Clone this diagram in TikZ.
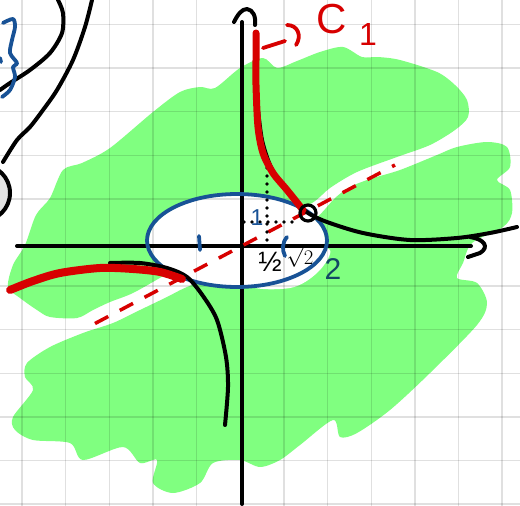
\documentclass[tikz,border=0pt]{standalone}
\usepackage{fontspec}
\setmainfont{Liberation Sans}
\definecolor{hlgreen}{RGB}{128,255,128}
\definecolor{inkblue}{RGB}{24,82,150}
\definecolor{inkteal}{RGB}{18,72,100}
\definecolor{inkred}{RGB}{215,0,0}
\definecolor{lightgray2}{RGB}{226,226,226}
\begin{document}
\begin{tikzpicture}[x=1pt,y=-1pt,
  gridline/.style={black,opacity=0.12,line width=1.4pt},
  ink/.style={black,line width=4pt,line cap=round,line join=round},
  redink/.style={inkred,line width=7pt,line cap=round,line join=round},
  blueink/.style={inkblue,line width=3.8pt,line cap=round,line join=round},
  reddash/.style={inkred,line width=3.5pt,dash pattern=on 15pt off 13pt},
  dotline/.style={black,line width=3.8pt,line cap=round,dash pattern=on 0pt off 8pt},
  greenblob/.style={fill=hlgreen,draw=none},
  lbl/.style={inner sep=0pt,outer sep=0pt}
]
\useasboundingbox (0,0) rectangle (520,506);
\fill[white] (0,0) rectangle (520,506);

% green highlighted regions
\fill[greenblob] plot[smooth cycle,tension=0.5] coordinates {
 (8,287) (13,265) (25,245) (36,215) (50,198) (63,170) (82,163) (110,148)
 (153,112) (180,92) (200,87) (215,88) (240,68) (263,58) (277,68) (297,61)
 (320,52) (343,47) (362,57) (378,57) (400,60) (437,72) (455,85) (467,100)
 (468,117) (455,130) (430,145) (397,157) (357,172) (330,188) (312,203)
 (270,225) (200,255) (165,275) (133,293) (110,302) (93,310) (77,318)
 (50,317) (37,310) (20,298)};
\fill[greenblob] plot[smooth cycle,tension=0.5] coordinates {
 (316,218) (335,198) (350,187) (370,179) (400,170) (437,155) (457,147)
 (487,142) (507,147) (510,167) (497,180) (510,190) (512,213) (503,227)
 (472,243) (463,263) (457,278) (477,283) (487,303) (477,325) (430,373)
 (390,410) (357,433) (340,437) (333,420) (300,445) (280,460) (260,467)
 (240,460) (213,463) (200,483) (173,493) (153,483) (157,460) (140,463)
 (123,447) (83,460) (70,443) (33,440) (15,430) (13,417) (33,390) (25,377)
 (27,363) (50,347) (83,333) (113,323) (140,310) (167,297) (187,287)
 (230,270) (280,240)};
% white interior of the ellipse
\fill[white] (237,240.5) ellipse[x radius=88,y radius=45];
\fill[white] plot[smooth cycle,tension=0.6] coordinates {
 (250,284) (290,288) (318,272) (330,250) (305,250)};

% grid
\foreach \gx in {22,65.6,109.2,152.8,196.4,284,327.6,371.2,414.8,458.4,502}
  \draw[gridline] (\gx,0) -- (\gx,506);
\foreach \gy in {24.5,68.1,111.7,155.3,198.9,286,329.6,373.2,416.8,460.4,504}
  \draw[gridline] (0,\gy) -- (520,\gy);

% top-left fragments
\filldraw[fill=lightgray2,draw=black,line width=4pt] (-18,193) circle[radius=28];
\draw[ink] plot[smooth] coordinates {(58,0) (63,13) (62,33) (50,53) (30,70) (10,83) (0,90)};
\draw[ink] plot[smooth] coordinates {(92,0) (85,27) (73,60) (57,90) (43,110) (30,127) (17,140) (3,162)};
\draw[blueink] plot[smooth,tension=0.5] coordinates {(3,23) (13,19) (15,27) (12,40) (10,53) (17,63) (13,67) (15,77) (10,90) (2,97)};
\draw[blueink] (0,58) -- (1,62);

% axes
\coordinate (xl) at (17,246);
\coordinate (xr) at (471,246);
\coordinate (yb) at (242,504);
\coordinate (yt) at (242,22);
\draw[ink] (xl) -- (xr);
\draw[ink] (yb) -- (yt);
\draw[ink] (470,237) .. controls (484,239) and (490,247) .. (480,253) -- (468,257);
\draw[ink] (234,22) .. controls (238,14) and (242,9) .. (247,9) .. controls (253,10) and (256,16) .. (255,25);

% ellipse
\draw[inkblue,line width=3.8pt] (237,240.5) ellipse[x radius=90,y radius=46.5];
\draw[blueink] (199,236) -- (200,250);
\draw[blueink] (287,237) .. controls (282,243) and (282,250) .. (285,256);

% dashed line y = x/2
\coordinate (d1) at (95,323.5);
\coordinate (d2) at (395,165);
\draw[reddash] (d1) -- (d2);

% dotted guides
\draw[dotline] (267,168) -- (267,246);
\draw[dotline] (244,222) -- (296,222);

% hyperbola branches (black)
\draw[ink] plot[smooth] coordinates {(258,110) (262,140) (270,165) (282,185) (296,202) (308,213) (327,222) (363,233) (410,240) (457,238) (490,233) (517,227)};
\draw[ink] plot[smooth] coordinates {(110,263) (140,263) (167,268) (187,277) (203,296) (217,320) (226,357) (228,387) (225,425)};

% red curve C1
\draw[redink] plot[smooth] coordinates {(256,33) (256,60) (256,85) (258,127) (263,153) (273,173) (287,190) (303,210)};
\draw[redink,line width=8pt] plot[smooth] coordinates {(10,290) (33,281) (60,273) (100,268) (133,269) (160,272) (182,279)};

% intersection point
\node[draw=black,line width=3.2pt,circle,minimum size=16pt,inner sep=0pt] (P) at (308,213) {};

% labels
\node[lbl,text=inkblue,font=\fontsize{23}{23}\selectfont] (l1) at (257,218) {1};
\node[lbl,font=\fontsize{28}{28}\selectfont] (lh) at (270,262) {½};
\node[lbl,font=\fontsize{20}{20}\selectfont] (lr) at (300,257) {$\sqrt{2}$};
\node[lbl,text=inkteal,font=\fontsize{30}{30}\selectfont] (l2) at (333,269) {2};
\node[lbl,text=inkred,font=\fontsize{42}{42}\selectfont,anchor=base] (lc) at (332,34) {C};
\node[lbl,text=inkred,font=\fontsize{32}{32}\selectfont] (lc1) at (368,34) {1};
\draw[inkred,line width=3.8pt,line cap=round] (263,48) -- (285,41);
\draw[inkred,line width=3.8pt,line cap=round] (287,25) .. controls (298,25) and (302,36) .. (296,45);
\end{tikzpicture}
\end{document}
